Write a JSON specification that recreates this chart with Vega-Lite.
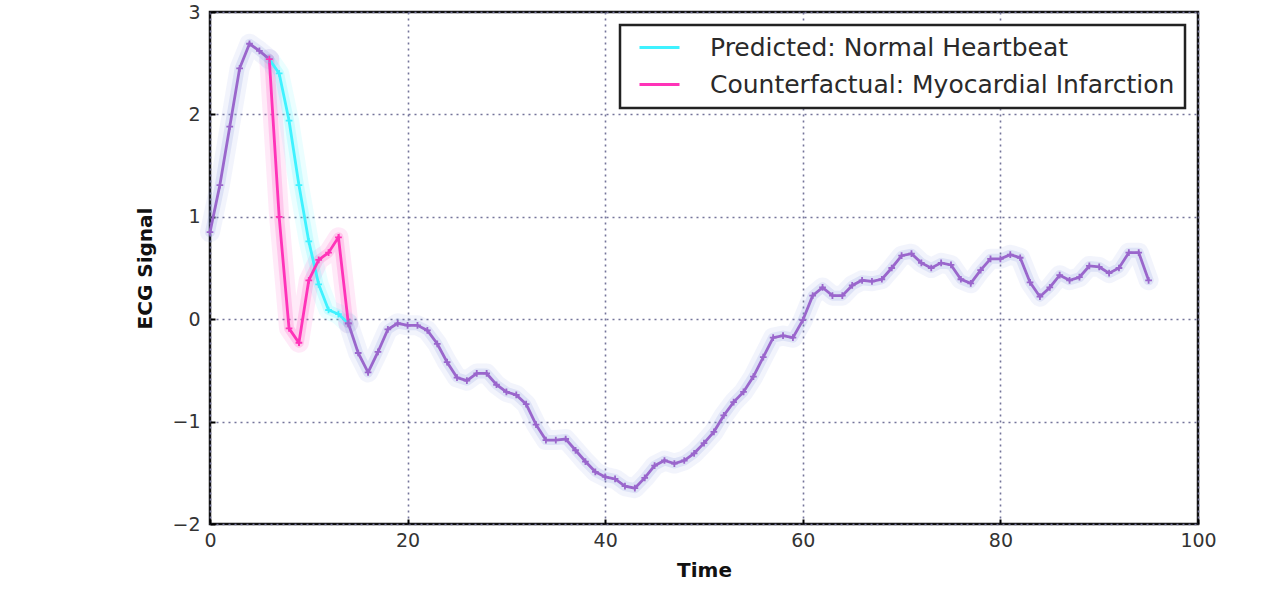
{
  "$schema": "https://vega.github.io/schema/vega-lite/v6.json",
  "autosize": {"type": "none"},
  "padding": {"left": 210, "top": 12, "right": 82, "bottom": 85},
  "width": 988,
  "height": 512,
  "background": "white",
  "config": {
    "font": "DejaVu Sans",
    "view": {"stroke": "#111", "strokeWidth": 2.5},
    "axis": {
      "labelFont": "DejaVu Sans", "labelFontSize": 19, "labelColor": "#333",
      "titleFont": "DejaVu Sans", "titleFontSize": 20, "titleFontWeight": "bold", "titleColor": "#111",
      "grid": true, "gridColor": "#74749a", "gridDash": [2, 4], "gridWidth": 1.6,
      "domain": false, "tickColor": "#000", "tickSize": -5, "tickWidth": 2, "labelFlush": false
    },
    "legend": {
      "labelFont": "DejaVu Sans", "labelFontSize": 25, "labelColor": "#2a2a2a", "labelLimit": 0, "strokeWidth": 2.5
    }
  },
  "datasets": {
    "ecg": [
      {"t": 0, "v": 0.85, "s": "shared", "g": "a"},
      {"t": 1, "v": 1.31, "s": "shared", "g": "a"},
      {"t": 2, "v": 1.88, "s": "shared", "g": "a"},
      {"t": 3, "v": 2.45, "s": "shared", "g": "a"},
      {"t": 4, "v": 2.69, "s": "shared", "g": "a"},
      {"t": 5, "v": 2.62, "s": "shared", "g": "a"},
      {"t": 6, "v": 2.54, "s": "shared", "g": "a"},
      {"t": 6, "v": 2.54, "s": "Predicted: Normal Heartbeat", "g": "p"},
      {"t": 7, "v": 2.40, "s": "Predicted: Normal Heartbeat", "g": "p"},
      {"t": 8, "v": 1.94, "s": "Predicted: Normal Heartbeat", "g": "p"},
      {"t": 9, "v": 1.31, "s": "Predicted: Normal Heartbeat", "g": "p"},
      {"t": 10, "v": 0.76, "s": "Predicted: Normal Heartbeat", "g": "p"},
      {"t": 11, "v": 0.34, "s": "Predicted: Normal Heartbeat", "g": "p"},
      {"t": 12, "v": 0.09, "s": "Predicted: Normal Heartbeat", "g": "p"},
      {"t": 13, "v": 0.05, "s": "Predicted: Normal Heartbeat", "g": "p"},
      {"t": 14, "v": -0.04, "s": "Predicted: Normal Heartbeat", "g": "p"},
      {"t": 6, "v": 2.54, "s": "Counterfactual: Myocardial Infarction", "g": "c"},
      {"t": 7, "v": 1.0, "s": "Counterfactual: Myocardial Infarction", "g": "c"},
      {"t": 8, "v": -0.09, "s": "Counterfactual: Myocardial Infarction", "g": "c"},
      {"t": 9, "v": -0.23, "s": "Counterfactual: Myocardial Infarction", "g": "c"},
      {"t": 10, "v": 0.38, "s": "Counterfactual: Myocardial Infarction", "g": "c"},
      {"t": 11, "v": 0.58, "s": "Counterfactual: Myocardial Infarction", "g": "c"},
      {"t": 12, "v": 0.65, "s": "Counterfactual: Myocardial Infarction", "g": "c"},
      {"t": 13, "v": 0.80, "s": "Counterfactual: Myocardial Infarction", "g": "c"},
      {"t": 14, "v": -0.04, "s": "Counterfactual: Myocardial Infarction", "g": "c"},
      {"t": 14, "v": -0.04, "s": "shared", "g": "b"},
      {"t": 15, "v": -0.33, "s": "shared", "g": "b"},
      {"t": 16, "v": -0.52, "s": "shared", "g": "b"},
      {"t": 17, "v": -0.32, "s": "shared", "g": "b"},
      {"t": 18, "v": -0.10, "s": "shared", "g": "b"},
      {"t": 19, "v": -0.04, "s": "shared", "g": "b"},
      {"t": 20, "v": -0.06, "s": "shared", "g": "b"},
      {"t": 21, "v": -0.06, "s": "shared", "g": "b"},
      {"t": 22, "v": -0.11, "s": "shared", "g": "b"},
      {"t": 23, "v": -0.24, "s": "shared", "g": "b"},
      {"t": 24, "v": -0.42, "s": "shared", "g": "b"},
      {"t": 25, "v": -0.57, "s": "shared", "g": "b"},
      {"t": 26, "v": -0.60, "s": "shared", "g": "b"},
      {"t": 27, "v": -0.53, "s": "shared", "g": "b"},
      {"t": 28, "v": -0.53, "s": "shared", "g": "b"},
      {"t": 29, "v": -0.64, "s": "shared", "g": "b"},
      {"t": 30, "v": -0.71, "s": "shared", "g": "b"},
      {"t": 31, "v": -0.74, "s": "shared", "g": "b"},
      {"t": 32, "v": -0.83, "s": "shared", "g": "b"},
      {"t": 33, "v": -1.03, "s": "shared", "g": "b"},
      {"t": 34, "v": -1.18, "s": "shared", "g": "b"},
      {"t": 35, "v": -1.18, "s": "shared", "g": "b"},
      {"t": 36, "v": -1.17, "s": "shared", "g": "b"},
      {"t": 37, "v": -1.28, "s": "shared", "g": "b"},
      {"t": 38, "v": -1.39, "s": "shared", "g": "b"},
      {"t": 39, "v": -1.49, "s": "shared", "g": "b"},
      {"t": 40, "v": -1.54, "s": "shared", "g": "b"},
      {"t": 41, "v": -1.56, "s": "shared", "g": "b"},
      {"t": 42, "v": -1.63, "s": "shared", "g": "b"},
      {"t": 43, "v": -1.65, "s": "shared", "g": "b"},
      {"t": 44, "v": -1.55, "s": "shared", "g": "b"},
      {"t": 45, "v": -1.43, "s": "shared", "g": "b"},
      {"t": 46, "v": -1.38, "s": "shared", "g": "b"},
      {"t": 47, "v": -1.41, "s": "shared", "g": "b"},
      {"t": 48, "v": -1.38, "s": "shared", "g": "b"},
      {"t": 49, "v": -1.31, "s": "shared", "g": "b"},
      {"t": 50, "v": -1.21, "s": "shared", "g": "b"},
      {"t": 51, "v": -1.10, "s": "shared", "g": "b"},
      {"t": 52, "v": -0.94, "s": "shared", "g": "b"},
      {"t": 53, "v": -0.81, "s": "shared", "g": "b"},
      {"t": 54, "v": -0.71, "s": "shared", "g": "b"},
      {"t": 55, "v": -0.56, "s": "shared", "g": "b"},
      {"t": 56, "v": -0.37, "s": "shared", "g": "b"},
      {"t": 57, "v": -0.18, "s": "shared", "g": "b"},
      {"t": 58, "v": -0.16, "s": "shared", "g": "b"},
      {"t": 59, "v": -0.18, "s": "shared", "g": "b"},
      {"t": 60, "v": -0.01, "s": "shared", "g": "b"},
      {"t": 61, "v": 0.23, "s": "shared", "g": "b"},
      {"t": 62, "v": 0.31, "s": "shared", "g": "b"},
      {"t": 63, "v": 0.23, "s": "shared", "g": "b"},
      {"t": 64, "v": 0.23, "s": "shared", "g": "b"},
      {"t": 65, "v": 0.33, "s": "shared", "g": "b"},
      {"t": 66, "v": 0.38, "s": "shared", "g": "b"},
      {"t": 67, "v": 0.37, "s": "shared", "g": "b"},
      {"t": 68, "v": 0.39, "s": "shared", "g": "b"},
      {"t": 69, "v": 0.50, "s": "shared", "g": "b"},
      {"t": 70, "v": 0.62, "s": "shared", "g": "b"},
      {"t": 71, "v": 0.64, "s": "shared", "g": "b"},
      {"t": 72, "v": 0.55, "s": "shared", "g": "b"},
      {"t": 73, "v": 0.50, "s": "shared", "g": "b"},
      {"t": 74, "v": 0.55, "s": "shared", "g": "b"},
      {"t": 75, "v": 0.53, "s": "shared", "g": "b"},
      {"t": 76, "v": 0.39, "s": "shared", "g": "b"},
      {"t": 77, "v": 0.35, "s": "shared", "g": "b"},
      {"t": 78, "v": 0.48, "s": "shared", "g": "b"},
      {"t": 79, "v": 0.59, "s": "shared", "g": "b"},
      {"t": 80, "v": 0.59, "s": "shared", "g": "b"},
      {"t": 81, "v": 0.63, "s": "shared", "g": "b"},
      {"t": 82, "v": 0.60, "s": "shared", "g": "b"},
      {"t": 83, "v": 0.36, "s": "shared", "g": "b"},
      {"t": 84, "v": 0.22, "s": "shared", "g": "b"},
      {"t": 85, "v": 0.31, "s": "shared", "g": "b"},
      {"t": 86, "v": 0.43, "s": "shared", "g": "b"},
      {"t": 87, "v": 0.38, "s": "shared", "g": "b"},
      {"t": 88, "v": 0.41, "s": "shared", "g": "b"},
      {"t": 89, "v": 0.52, "s": "shared", "g": "b"},
      {"t": 90, "v": 0.51, "s": "shared", "g": "b"},
      {"t": 91, "v": 0.45, "s": "shared", "g": "b"},
      {"t": 92, "v": 0.50, "s": "shared", "g": "b"},
      {"t": 93, "v": 0.65, "s": "shared", "g": "b"},
      {"t": 94, "v": 0.65, "s": "shared", "g": "b"},
      {"t": 95, "v": 0.38, "s": "shared", "g": "b"}
    ]
  },
  "data": {"name": "ecg"},
  "encoding": {
    "x": {"field": "t", "type": "quantitative", "scale": {"domain": [0, 100], "nice": false, "zero": false},
      "axis": {"title": "Time", "values": [0, 20, 40, 60, 80, 100], "labelPadding": 12, "titlePadding": 10}},
    "y": {"field": "v", "type": "quantitative", "scale": {"domain": [-2, 3], "nice": false, "zero": false},
      "axis": {"title": "ECG Signal", "values": [-2, -1, 0, 1, 2, 3], "labelPadding": 15, "titlePadding": 16}},
    "detail": {"field": "g"},
    "color": {"field": "s", "type": "nominal",
      "scale": {"domain": ["Predicted: Normal Heartbeat", "Counterfactual: Myocardial Infarction", "shared"], "range": ["#3ff2ff", "#ff33b8", "#9a66cc"]},
      "legend": {"title": null, "values": ["Predicted: Normal Heartbeat", "Counterfactual: Myocardial Infarction"],
        "orient": "none", "legendX": 410, "legendY": 13, "symbolType": "M -2 0 L 2 0", "symbolSize": 400, "symbolStrokeWidth": 3,
        "symbolOffset": 17, "labelOffset": 38, "rowPadding": 11, "padding": 10, "strokeColor": "#222", "fillColor": "white", "symbolOpacity": 1}}
  },
  "layer": [
    {
      "mark": {"type": "line", "strokeWidth": 20, "opacity": 0.1, "strokeCap": "round", "strokeJoin": "round"},
      "encoding": {"color": {"condition": {"test": "datum.s === 'shared'", "value": "#7f90e0"}, "field": "s", "type": "nominal"}}
    },
    {
      "mark": {"type": "line", "strokeWidth": 10, "opacity": 0.18, "strokeCap": "round", "strokeJoin": "round"},
      "encoding": {"color": {"condition": {"test": "datum.s === 'shared'", "value": "#7f90e0"}, "field": "s", "type": "nominal"}}
    },
    {
      "mark": {"type": "line", "strokeWidth": 2.8, "opacity": 1}
    },
    {
      "mark": {"type": "point", "shape": "M -1 0 L 1 0 M 0 -1 L 0 1", "filled": false, "size": 45, "strokeWidth": 1.8, "opacity": 1}
    }
  ]
}
